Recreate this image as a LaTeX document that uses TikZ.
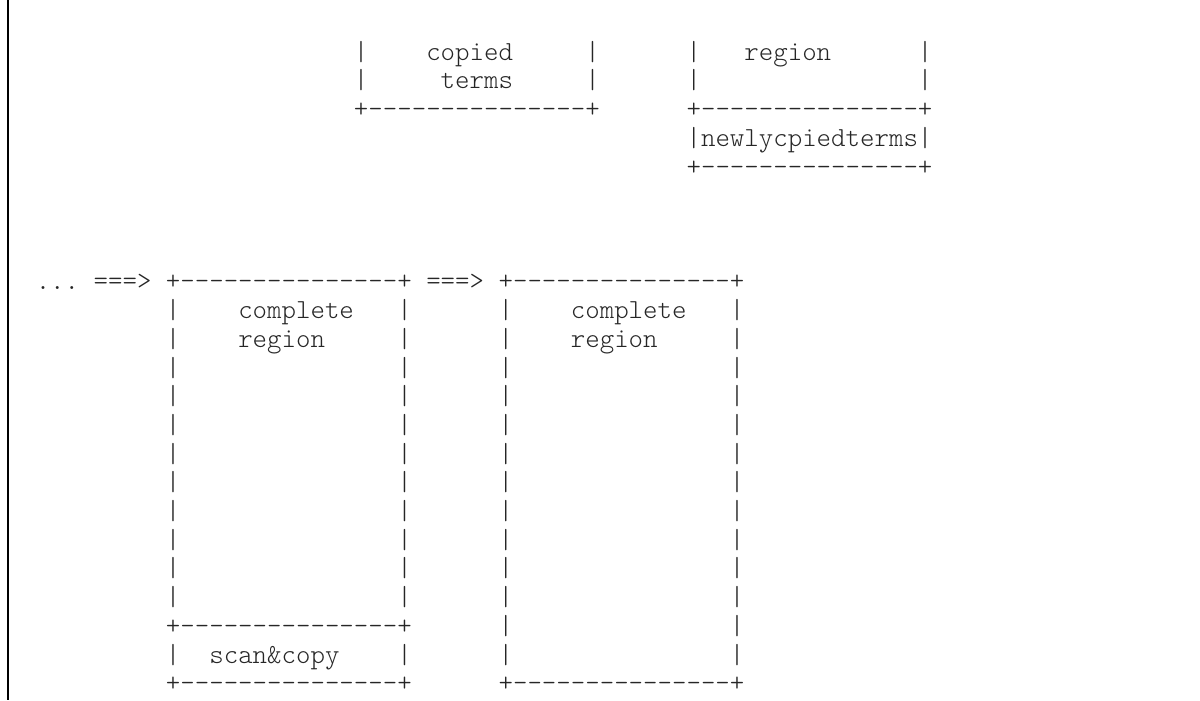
\documentclass[tikz,border=0pt]{standalone}
\usepackage{fontspec}
\setmonofont{Latin Modern Mono Light}
\newcommand{\asciirule}{+---------------+}
\begin{document}
\begin{tikzpicture}[x=7.23pt,y=-14.35pt,
		ascii/.style={font=\ttfamily\fontsize{13.77pt}{14.35pt}\selectfont,
			text=black!85, inner sep=0pt, outer sep=0pt, anchor=west,
			text height=9.64pt, text depth=2.41pt}]
				% Khung va vach trai
				\useasboundingbox (-2.974,-1.847) rectangle (80,22.54);
				\draw[line width=1pt] (-2.42,-1.847) -- (-2.42,22.54);
				
				% Hop copied terms
				\foreach \r in {0,1} {
					\node[ascii] (cpdL\r) at (21.5,\r) {|};
					\node[ascii] (cpdR\r) at (37.5,\r) {|};
				}
				\node[ascii] (cpdtxt) at (26.5,0) {copied};
				\node[ascii] (trmtxt) at (27.5,1) {terms};
				\node[ascii] (cpdbot) at (21.5,2) {\asciirule};
				
				% Hop region / newlycpiedterms
				\foreach \r in {0,1,3} {
					\node[ascii] (regL\r) at (44.5,\r) {|};
					\node[ascii] (regR\r) at (60.5,\r) {|};
				}
				\node[ascii] (regtxt) at (48.5,0) {region};
				\node[ascii] (regmid) at (44.5,2) {\asciirule};
				\node[ascii] (newtxt) at (45.5,3) {newlycpiedterms};
				\node[ascii] (regbot) at (44.5,4) {\asciirule};
				
				% Dong mui ten
				\node[ascii] (dots) at (-0.5,8) {...};
				\node[ascii] (arrA) at (3.5,8) {===>};
				\node[ascii] (boxAtop) at (8.5,8) {\asciirule};
				\node[ascii] (arrB) at (26.5,8) {===>};
				\node[ascii] (boxBtop) at (31.5,8) {\asciirule};
				
				% Hop complete region + scan&copy
				\foreach \r in {9,...,19,21} {
					\node[ascii] (aL\r) at (8.5,\r) {|};
					\node[ascii] (aR\r) at (24.5,\r) {|};
				}
				\node[ascii] (acmp) at (13.5,9) {complete};
				\node[ascii] (areg) at (13.5,10) {region};
				\node[ascii] (amid) at (8.5,20) {\asciirule};
				\node[ascii] (scan) at (11.5,21) {scan\&copy};
				\node[ascii] (abot) at (8.5,22) {\asciirule};
				
				% Hop complete region thu hai
				\foreach \r in {9,...,21} {
					\node[ascii] (bL\r) at (31.5,\r) {|};
					\node[ascii] (bR\r) at (47.5,\r) {|};
				}
				\node[ascii] (bcmp) at (36.5,9) {complete};
				\node[ascii] (breg) at (36.5,10) {region};
				\node[ascii] (bbot) at (31.5,22) {\asciirule};
			\end{tikzpicture}
\end{document}
